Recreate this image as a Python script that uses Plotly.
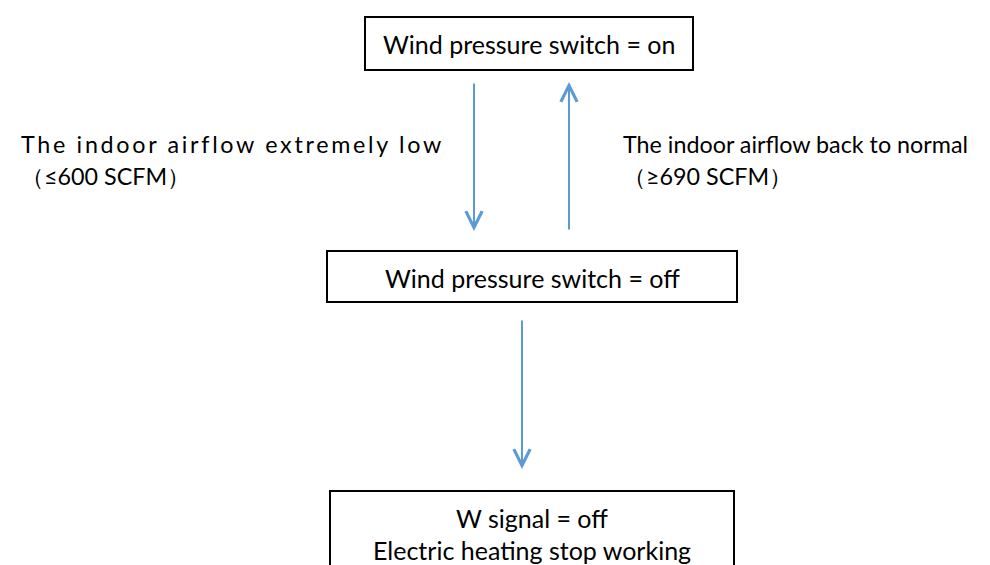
import plotly.graph_objects as go

# ---- content ----
box_texts = [
    ["Wind pressure switch = on"],
    ["Wind pressure switch = off"],
    ["W signal = off", "Electric heating stop working"],
]
left_label = ["The indoor airflow extremely low", "（≤600 SCFM）"]
right_label = ["The indoor airflow back to normal", "（≥690 SCFM）"]

# ---- layout geometry (pixels, y downward) ----
W, H = 990, 565
boxes = [  # x0, x1, y0, y1, first-line-centre-y
    (357, 685, 9, 62, 36),
    (319, 729, 243, 294, 270),
    (322, 726, 483, 620, 510),
]
arrows = [  # x, y_start, y_end(tip)
    (466, 74, 223),
    (561, 223, 74),
    (514, 311, 461),
]
LINE_GAP = 32
LABEL_Y = 135.5

FONT = "Lato, Carlito, Calibri, 'Noto Sans', sans-serif"
FS_BOX = 25
FS_LBL = 23.3
BLUE = "#5B9BD5"

fig = go.Figure()
fig.add_trace(go.Scatter(x=[0, W], y=[0, H], mode="markers",
                         marker=dict(opacity=0), hoverinfo="skip", showlegend=False))

for (x0, x1, y0, y1, ty), lines in zip(boxes, box_texts):
    fig.add_shape(type="rect", x0=x0, x1=x1, y0=y0, y1=y1, xref="x", yref="y",
                  line=dict(color="black", width=2), fillcolor="rgba(0,0,0,0)")
    for i, txt in enumerate(lines):
        fig.add_annotation(x=(x0 + x1) / 2, y=ty + i * LINE_GAP, text=txt, showarrow=False,
                           xanchor="center", yanchor="middle", align="center",
                           font=dict(family=FONT, size=FS_BOX, color="black"))

for x, ys, ye in arrows:
    fig.add_annotation(x=x, y=ye, ax=x, ay=ys, xref="x", yref="y", axref="x", ayref="y",
                       text="", showarrow=True, arrowhead=5, arrowsize=1.6,
                       arrowwidth=2, arrowcolor=BLUE, standoff=0, startstandoff=0)

# left label (wide letter spacing on first line)
fig.add_annotation(x=11, y=LABEL_Y,
                   text='<span style="letter-spacing:2.7px">' + left_label[0] + "</span>",
                   showarrow=False, xanchor="left", yanchor="middle", align="left",
                   font=dict(family=FONT, size=FS_LBL, color="black"))
fig.add_annotation(x=11, y=LABEL_Y + LINE_GAP, text=left_label[1],
                   showarrow=False, xanchor="left", yanchor="middle", align="left",
                   font=dict(family=FONT, size=FS_LBL, color="black"))
# right label
for i, txt in enumerate(right_label):
    fig.add_annotation(x=613, y=LABEL_Y + i * LINE_GAP, text=txt,
                       showarrow=False, xanchor="left", yanchor="middle", align="left",
                       font=dict(family=FONT, size=FS_LBL, color="black"))

fig.update_layout(
    width=W, height=H, margin=dict(l=0, r=0, t=0, b=0),
    paper_bgcolor="white", plot_bgcolor="white",
    xaxis=dict(range=[0, W], visible=False, fixedrange=True),
    yaxis=dict(range=[H, 0], visible=False, fixedrange=True),
    showlegend=False,
)
fig.write_html("out.html", config={"displayModeBar": False})
